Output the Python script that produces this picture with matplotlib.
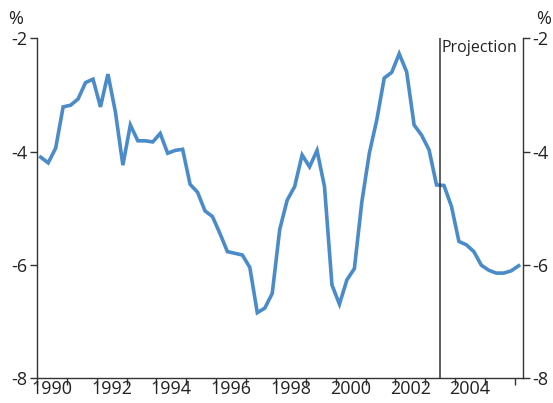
import numpy as np
import matplotlib
matplotlib.use("Agg")
import matplotlib.pyplot as plt

# Quarterly values, 1990 Q1 to 2006 Q1 (per cent).
start_year = 1990
values = [
    -4.10, -4.20, -3.94, -3.21,   # 1990
    -3.18, -3.07, -2.78, -2.72,   # 1991
    -3.21, -2.63, -3.30, -4.24,   # 1992
    -3.53, -3.81, -3.81, -3.83,   # 1993
    -3.68, -4.03, -3.98, -3.96,   # 1994
    -4.58, -4.72, -5.05, -5.15,   # 1995
    -5.45, -5.77, -5.80, -5.83,   # 1996
    -6.05, -6.85, -6.77, -6.51,   # 1997
    -5.38, -4.86, -4.62, -4.06,   # 1998
    -4.27, -3.98, -4.62, -6.36,   # 1999
    -6.70, -6.27, -6.07, -4.89,   # 2000
    -4.03, -3.44, -2.70, -2.60,   # 2001
    -2.27, -2.59, -3.53, -3.71,   # 2002
    -3.97, -4.59, -4.60, -4.97,   # 2003
    -5.59, -5.65, -5.77, -6.01,   # 2004
    -6.10, -6.15, -6.15, -6.11,   # 2005
    -6.02,                        # 2006
]
projection_start = 2003.5
year_labels = [1990, 1992, 1994, 1996, 1998, 2000, 2002, 2004]
y_ticks = [-8, -6, -4, -2]

LINE_BLUE = "#4a8bca"
AXIS_GREY = "#333333"

plt.rcParams["font.family"] = ["Open Sans", "DejaVu Sans"]
plt.rcParams["font.size"] = 13

t = start_year + 0.125 + 0.25 * np.arange(len(values))

fig = plt.figure(figsize=(5.53, 4.03), dpi=100)
ax = fig.add_axes([0.0669, 0.0628, 0.8783, 0.8417])

ax.plot(t, values, color=LINE_BLUE, lw=2.6, solid_joinstyle="miter")
ax.axvline(projection_start, color=AXIS_GREY, lw=1.1)
ax.text(projection_start + 0.05, -2.03, "Projection", ha="left", va="top",
        color="#222222", fontsize=11.5)

ax.set_xlim(1990, 2006.26)
ax.set_ylim(-8, -2)

ax.spines["top"].set_visible(False)
for side in ("left", "right", "bottom"):
    ax.spines[side].set_color(AXIS_GREY)
    ax.spines[side].set_linewidth(1.0)

# Year boundaries as ticks, labels centred in the year.
ax.set_xticks(range(1990, 2007))
ax.set_xticklabels([])
ax.set_xticks([y + 0.5 for y in year_labels], minor=True)
ax.set_xticklabels([str(y) for y in year_labels], minor=True)
ax.tick_params(axis="x", which="major", direction="out", length=5,
               width=1.0, color=AXIS_GREY)
ax.tick_params(axis="x", which="minor", length=0, pad=2, labelcolor="#222222")

ax.set_yticks(y_ticks)
ax.set_yticklabels([str(v) for v in y_ticks])
ax.tick_params(axis="y", which="both", direction="out", length=5, width=1.0,
               color=AXIS_GREY, labelcolor="#222222", left=True, right=True,
               labelleft=True, labelright=True, pad=2)

fig.text(0.015, 0.93, "%", ha="left", va="bottom", color="#222222")
fig.text(0.97, 0.93, "%", ha="left", va="bottom", color="#222222")

fig.savefig("out.png", dpi=100)
